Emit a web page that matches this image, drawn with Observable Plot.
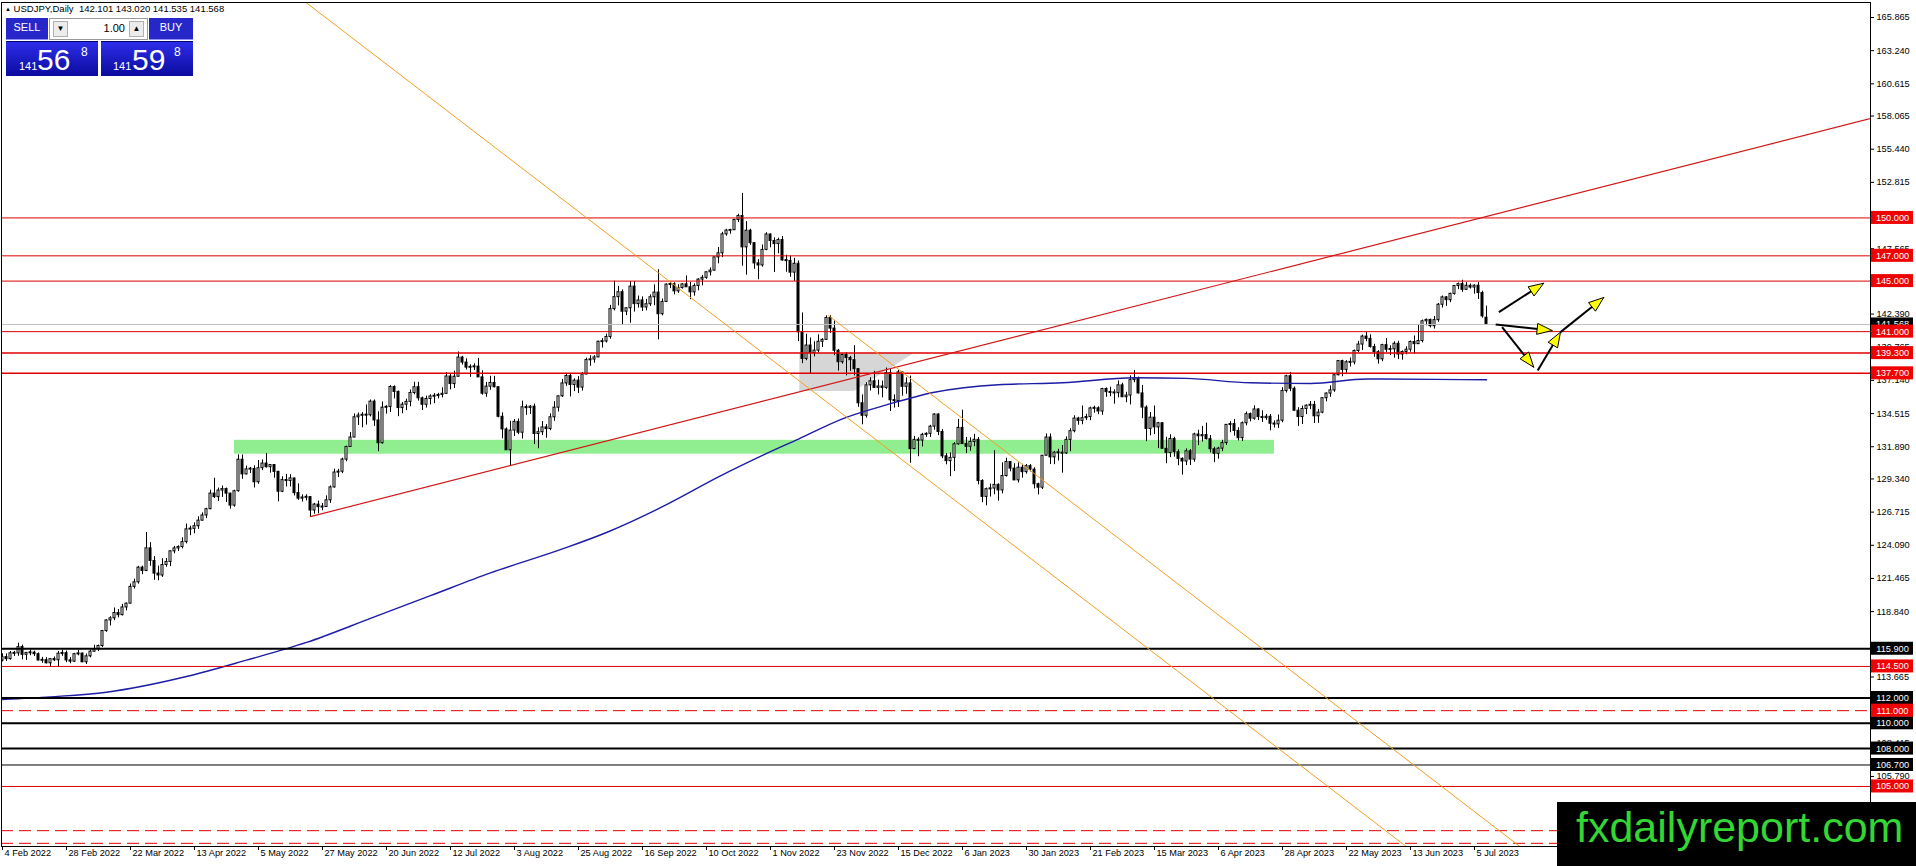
<!DOCTYPE html>
<html><head><meta charset="utf-8">
<script src="https://cdn.jsdelivr.net/npm/d3@7"></script>
<script src="https://cdn.jsdelivr.net/npm/@observablehq/plot@0.6"></script>
<style>
html,body{margin:0;padding:0;background:#fff;}
#wrap{position:relative;width:1916px;height:866px;overflow:hidden;font-family:"Liberation Sans",Arial,sans-serif;}
#chart svg{display:block;}
#title{position:absolute;left:5px;top:3px;font-size:9.5px;color:#000;white-space:pre;}
#title .tri{font-size:6px;vertical-align:1px;}
.bt{position:absolute;top:18px;height:22px;width:42px;background:#2727c9;color:#fff;font-size:11px;text-align:center;line-height:19px;box-sizing:border-box;border-bottom:1px solid #8f8fff;}
#lot{position:absolute;left:49px;top:18px;width:99px;height:22px;background:#fff;border:1px solid #9a9a9a;box-sizing:border-box;font-size:11px;}
#lot .ar{position:absolute;top:2px;width:15px;height:16px;background:#ececec;border:1px solid #b0b0b0;box-sizing:border-box;font-size:8px;text-align:center;line-height:14px;color:#000;}
#lot .v{position:absolute;right:22px;top:3px;}
.pb{position:absolute;top:41px;width:92px;height:35px;background:linear-gradient(#2d2dea,#0b0b9e);color:#fff;border-top:1px solid #00006a;box-sizing:border-box;}
.pb .s{position:absolute;bottom:4px;font-size:11px;}
.pb .b{position:absolute;bottom:1px;font-size:30px;line-height:30px;}
.pb .t{position:absolute;top:3px;font-size:12px;}
#wm{position:absolute;left:1557px;top:802px;width:359px;height:64px;background:#000;}
#wm span{position:absolute;left:19px;top:4px;font-size:43px;line-height:43px;color:#33d633;white-space:nowrap;}
</style></head>
<body><div id="wrap"><div id="chart"></div>
<div id="title"><span class="tri">▲</span> USDJPY,Daily  142.101 143.020 141.535 141.568</div>
<div class="bt" style="left:6px">SELL</div>
<div id="lot"><div class="ar" style="left:3px">▼</div><span class="v">1.00</span><div class="ar" style="right:3px">▲</div></div>
<div class="bt" style="left:149px;width:44px">BUY</div>
<div class="pb" style="left:6px"><span class="s" style="left:13px">141</span><span class="b" style="left:31px">56</span><span class="t" style="left:75px">8</span></div>
<div class="pb" style="left:101px"><span class="s" style="left:12px">141</span><span class="b" style="left:31px">59</span><span class="t" style="left:73px">8</span></div>
<div id="wm"><span>fxdailyreport.com</span></div>
</div>
<script>
// ---- Daily OHLC [open, high, low, close], one small array per month ----
const feb2022 = [
[114.97,115.50,114.86,115.24],[115.24,115.49,114.90,115.08],[115.08,115.68,115.00,115.54],[115.54,115.69,115.29,115.53],
[115.53,116.34,115.30,116.03],[116.03,116.19,115.02,115.42],[115.42,115.61,114.98,115.57],[115.57,115.80,115.35,115.59],
[115.59,115.71,115.29,115.47],[115.47,115.57,114.94,114.97],[114.97,115.22,114.75,115.00],[115.00,115.20,114.70,114.75],
[114.75,115.11,114.50,115.08],[115.08,115.25,114.88,114.99],[114.99,115.69,114.41,115.51],[115.51,115.77,115.30,115.55],
[115.55,115.72,114.80,114.98]];
const mar2022 = [
[114.98,115.20,114.71,114.88],[114.88,115.54,114.82,115.47],[115.47,115.80,115.34,115.52],[115.52,115.56,114.80,114.83],
[114.83,115.48,114.65,115.30],[115.30,115.80,115.18,115.67],[115.67,116.17,115.61,115.86],[115.86,116.19,115.68,116.12],
[116.12,117.35,116.00,117.30],[117.30,118.20,117.20,118.14],[118.14,118.44,117.70,118.31],[118.31,119.13,118.12,118.73],
[118.73,119.00,118.35,118.56],[118.56,119.41,118.50,119.17],[119.17,119.52,118.90,119.47],[119.47,121.03,119.44,120.80],
[120.80,121.41,120.63,121.16],[121.16,122.42,121.02,122.32],[122.32,122.44,121.76,122.06],[122.06,125.10,122.00,123.85],
[123.85,124.30,122.43,122.85],[122.85,123.19,121.32,121.85],[121.85,122.44,121.28,121.70]];
const apr2022 = [
[121.70,123.02,121.55,122.53],[122.53,123.04,122.35,122.77],[122.77,123.65,122.40,123.61],[123.61,124.00,123.42,123.84],
[123.84,124.05,123.60,123.95],[123.95,124.68,123.80,124.34],[124.34,125.77,124.20,125.35],[125.35,125.60,124.85,125.39],
[125.39,125.86,125.00,125.60],[125.60,126.35,125.35,126.04],[126.04,126.65,126.00,126.45],[126.45,127.02,126.20,126.95],
[126.95,128.45,126.90,128.18],[128.18,129.40,127.80,127.90],[127.90,128.62,127.56,128.42],[128.42,128.78,127.88,128.54],
[128.54,128.62,127.47,128.18],[128.18,128.20,126.95,127.23],[127.23,128.45,127.10,128.37],[128.37,131.25,128.30,130.86],
[130.86,131.24,129.31,129.70]];
const may2022 = [
[129.70,130.36,129.67,130.10],[130.10,130.25,129.77,130.13],[130.13,130.38,128.63,129.08],[129.08,130.80,128.92,130.19],
[130.19,130.85,130.00,130.56],[130.56,131.35,130.20,130.27],[130.27,130.48,129.80,130.44],[130.44,130.46,129.40,129.90],
[129.90,129.95,127.53,128.33],[128.33,129.51,128.26,129.25],[129.25,129.70,128.70,129.18],[129.18,129.68,128.70,129.38],
[129.38,129.39,128.00,128.22],[128.22,128.95,127.65,127.78],[127.78,128.08,127.51,127.87],[127.87,128.09,127.60,127.90],
[127.90,127.95,126.36,126.84],[126.84,127.40,126.55,127.31],[127.31,127.59,126.58,127.11],[127.11,127.40,126.82,127.12],
[127.12,128.00,127.10,127.65],[127.65,128.79,127.40,128.67]];
const jun2022 = [
[128.67,130.11,128.62,129.85],[129.85,130.10,129.45,129.91],[129.91,130.98,129.76,130.87],[130.87,131.94,130.70,131.87],
[131.87,133.01,131.85,132.62],[132.62,134.49,132.60,134.22],[134.22,134.56,133.57,134.36],[134.36,134.59,133.39,134.40],
[134.40,135.20,133.60,134.38],[134.38,135.59,134.25,135.46],[135.46,135.59,133.50,133.97],[133.97,134.66,131.50,132.17],
[132.17,135.43,132.10,134.98],[134.98,135.14,134.47,135.04],[135.04,136.72,134.60,136.62],[136.62,136.71,135.68,136.23],
[136.23,136.30,134.27,134.95],[134.95,135.39,134.50,135.22],[135.22,135.66,134.74,135.44],[135.44,136.38,135.05,136.14],
[136.14,137.00,136.00,136.60],[136.60,136.99,135.50,135.72]];
const jul2022 = [
[135.72,135.82,134.76,135.21],[135.21,135.90,134.95,135.67],[135.67,136.00,135.20,135.87],[135.87,136.10,135.30,135.90],
[135.90,136.12,135.68,135.99],[135.99,136.56,135.75,136.08],[136.08,137.75,136.05,137.45],[137.45,137.68,136.39,136.85],
[136.85,137.87,136.50,137.43],[137.43,139.39,137.40,138.95],[138.95,139.05,138.35,138.55],[138.55,138.85,137.97,138.15],
[138.15,138.38,137.38,138.20],[138.20,138.45,137.92,138.23],[138.23,138.88,137.45,137.38],[137.38,137.90,135.97,136.09],
[136.09,136.98,135.80,136.65],[136.65,137.47,136.36,136.94],[136.94,137.46,136.55,136.60],[136.60,136.62,134.18,134.26],
[134.26,134.57,132.51,133.26]];
const aug2022 = [
[133.26,133.38,131.60,131.61],[131.61,133.90,130.40,133.17],[133.17,134.05,132.70,133.86],[133.86,134.09,132.84,133.00],
[133.00,135.50,132.50,135.01],[135.01,135.20,134.37,134.96],[134.96,135.15,134.45,135.06],[135.06,135.27,132.06,132.90],
[132.90,133.39,131.73,133.04],[133.04,133.88,132.77,133.42],[133.42,133.64,132.56,133.29],[133.29,134.49,133.16,134.22],
[134.22,135.46,133.90,134.98],[134.98,135.90,134.64,135.88],[135.88,137.22,135.79,136.90],[136.90,137.70,136.67,137.49],
[137.49,137.65,135.83,136.78],[136.78,137.26,136.25,137.12],[137.12,137.44,136.10,136.57],[136.57,137.77,136.30,137.61],
[137.61,138.90,137.58,138.75],[138.75,139.09,138.25,138.79],[138.79,139.10,138.50,138.96]];
const sep2022 = [
[138.96,140.24,138.94,140.20],[140.20,140.45,139.70,140.22],[140.22,140.80,140.10,140.58],[140.58,143.08,140.40,142.78],
[142.78,144.99,142.64,143.73],[143.73,144.58,143.04,144.12],[144.12,144.30,141.50,142.58],[142.58,142.88,142.27,142.85],
[142.85,144.97,141.66,144.56],[144.56,144.96,142.55,143.18],[143.18,143.82,142.86,143.47],[143.47,143.75,142.60,142.91],
[142.91,143.55,142.65,143.17],[143.17,143.91,143.00,143.72],[143.72,144.70,143.05,144.09],[144.09,145.90,140.35,142.38],
[142.38,143.58,142.25,143.35],[143.35,144.78,143.30,144.72],[144.72,144.91,144.40,144.75],[144.75,144.87,143.91,144.19],
[144.19,144.72,144.03,144.46],[144.46,144.80,144.36,144.74]];
const oct2022 = [
[144.74,145.41,144.60,144.51],[144.51,144.90,143.53,144.11],[144.11,144.78,143.81,144.61],[144.61,145.19,144.23,145.12],
[145.12,145.45,144.63,145.26],[145.26,145.71,145.14,145.70],[145.70,146.04,145.40,145.83],[145.83,146.90,145.79,146.88],
[146.88,147.66,146.37,147.20],[147.20,148.86,146.86,148.70],[148.70,149.10,148.55,149.00],[149.00,149.09,148.71,149.03],
[149.03,149.90,149.00,149.84],[149.84,150.29,149.64,150.15],[150.15,151.94,146.18,147.67],[147.67,149.71,145.47,148.99],
[148.99,149.10,147.83,148.00],[148.00,148.05,145.93,146.40],[146.40,146.70,145.10,146.24],[146.24,147.86,146.10,147.47],
[147.47,148.83,147.40,148.69]];
const nov2022 = [
[148.69,148.73,147.64,148.18],[148.18,148.43,145.68,147.93],[147.93,148.40,147.17,148.25],[148.25,148.53,146.57,146.64],
[146.64,147.05,145.70,146.60],[146.60,146.98,145.30,145.67],[145.67,146.80,144.98,146.37],[146.37,146.59,140.21,140.95],
[140.95,142.48,138.47,138.84],[138.84,140.80,138.70,139.90],[139.90,140.50,137.68,139.30],[139.30,140.20,139.00,139.50],
[139.50,140.75,139.30,140.20],[140.20,140.44,139.74,140.35],[140.35,142.25,140.30,142.08],[142.08,142.26,140.86,141.24],
[141.24,141.85,139.10,139.49],[139.49,139.59,137.88,138.58],[138.58,139.24,138.43,139.15],[139.15,139.35,137.50,138.91],
[138.91,139.04,137.85,138.74],[138.74,139.89,137.50,138.03]];
const dec2022 = [
[138.03,138.06,135.01,135.33],[135.33,135.99,133.63,134.34],[134.34,136.96,134.16,136.75],[136.75,137.35,136.30,137.07],
[137.07,137.86,136.50,136.55],[136.55,137.16,135.99,136.66],[136.66,137.09,135.76,136.55],[136.55,138.12,136.43,137.72],
[137.72,138.00,134.68,135.57],[135.57,135.99,134.95,135.51],[135.51,137.93,135.00,137.77],[137.77,137.78,135.89,136.63],
[136.63,137.34,136.04,136.90],[136.90,137.48,130.58,131.71],[131.71,132.71,131.65,132.43],[132.43,132.60,131.10,132.38],
[132.38,132.95,131.87,132.83],[132.83,133.00,132.63,132.91],[132.91,133.59,132.63,133.48],[133.48,134.50,133.20,134.44],
[134.44,134.50,132.77,133.06],[133.06,133.25,130.95,131.13]];
const jan2023 = [
[131.13,131.35,130.46,130.75],[130.75,131.40,129.52,131.01],[131.01,132.21,129.93,132.08],[132.08,134.05,132.01,133.38],
[133.38,134.78,132.68,132.10],[132.10,132.62,131.35,131.89],[131.89,132.60,131.53,132.27],[132.27,132.87,131.90,132.44],
[132.44,132.62,128.87,129.18],[129.18,129.28,127.46,127.92],[127.92,128.62,127.22,128.53],[128.53,128.94,127.91,128.58],
[128.58,131.58,128.09,128.87],[128.87,128.96,127.58,128.43],[128.43,130.62,128.16,129.57],[129.57,130.98,129.49,130.68],
[130.68,130.72,129.91,130.16],[130.16,130.54,129.20,129.23],[129.23,130.61,129.02,130.23],[130.23,130.50,129.40,129.88],
[129.88,130.48,129.72,130.35],[130.35,130.48,129.90,130.08]];
const feb2023 = [
[130.08,130.23,128.55,128.92],[128.92,129.00,128.08,128.65],[128.65,131.20,128.50,131.18],[131.18,132.90,131.15,132.62],
[132.62,132.90,130.48,131.05],[131.05,131.52,130.47,131.42],[131.42,131.69,130.76,131.40],[131.40,131.99,129.80,131.36],
[131.36,132.67,131.28,132.43],[132.43,133.32,131.50,133.12],[133.12,134.34,132.99,134.12],[134.12,134.22,133.60,133.94],
[133.94,135.11,133.63,134.15],[134.15,134.46,133.96,134.24],[134.24,135.02,133.95,134.92],[134.92,135.10,134.55,134.93],
[134.93,135.05,134.43,134.68],[134.68,136.52,134.38,136.46],[136.46,136.55,135.80,136.21],[136.21,136.60,135.85,136.17]];
const mar2023 = [
[136.17,136.40,135.26,136.13],[136.13,137.10,135.76,136.75],[136.75,136.91,135.78,135.81],[135.81,136.20,135.37,135.94],
[135.94,137.50,135.20,137.16],[137.16,137.92,136.96,137.31],[137.31,137.40,136.07,136.11],[136.11,136.74,134.11,134.99],
[134.99,135.13,132.29,133.30],[133.30,134.60,132.75,134.19],[134.19,135.11,132.85,133.42],[133.42,133.82,131.74,133.75],
[133.75,133.77,131.71,131.73],[131.73,132.64,130.54,131.40],[131.40,132.84,131.03,132.50],[132.50,132.64,131.07,131.46],
[131.46,131.65,130.39,130.93],[130.93,131.01,129.65,130.72],[130.72,131.72,130.40,131.53],[131.53,131.67,130.40,130.87],
[130.87,132.96,130.66,132.86],[132.86,133.20,131.98,132.72],[132.72,133.50,132.26,132.81]];
const apr2023 = [
[132.81,133.76,132.42,132.49],[132.49,132.78,131.40,131.69],[131.69,131.85,130.63,131.33],[131.33,131.85,130.90,131.74],
[131.74,132.40,131.50,132.18],[132.18,133.63,132.00,133.62],[133.62,133.88,133.00,133.68],[133.68,134.05,132.73,133.14],
[133.14,133.39,132.35,132.57],[132.57,133.85,132.30,133.75],[133.75,134.64,133.54,134.47],[134.47,134.56,133.86,134.11],
[134.11,135.13,133.99,134.84],[134.84,134.89,133.96,134.24],[134.24,134.74,133.81,134.16],[134.16,134.45,133.98,134.26],
[134.26,134.44,133.15,133.71],[133.71,133.94,133.37,133.66],[133.66,134.40,133.34,133.95],[133.95,136.56,133.79,136.30]];
const may2023 = [
[136.30,137.55,136.14,137.47],[137.47,137.77,136.25,136.48],[136.48,136.62,134.70,134.74],[134.74,134.98,133.50,134.24],
[134.24,135.11,133.65,134.88],[134.88,135.20,134.43,135.14],[135.14,135.47,134.83,135.20],[135.20,135.48,133.73,134.30],
[134.30,134.84,133.75,134.59],[134.59,135.76,134.50,135.73],[135.73,136.15,135.45,136.10],[136.10,136.70,135.80,136.35],
[136.35,137.64,136.20,137.55],[137.55,138.70,137.50,138.67],[138.67,138.74,137.43,137.97],[137.97,138.70,137.71,138.58],
[138.58,138.91,138.20,138.56],[138.56,139.55,138.37,139.47],[139.47,140.23,139.32,139.98],[139.98,140.73,139.50,140.61],
[140.61,140.93,140.20,140.43],[140.43,140.75,139.70,139.78],[139.78,140.00,138.98,139.37]];
const jun2023 = [
[139.37,139.49,138.43,138.81],[138.81,140.00,138.62,139.93],[139.93,140.45,139.35,139.57],[139.57,139.88,139.10,139.60],
[139.60,140.20,138.90,140.04],[140.04,140.24,138.79,139.19],[139.19,139.48,138.74,139.39],[139.39,139.80,139.17,139.57],
[139.57,140.26,139.37,140.18],[140.18,140.66,139.23,140.01],[140.01,141.50,139.98,140.26],[140.26,141.92,140.11,141.82],
[141.82,142.00,141.46,141.93],[141.93,141.98,141.30,141.43],[141.43,142.20,141.20,141.91],[141.91,143.23,141.74,143.13],
[143.13,143.82,142.87,143.71],[143.71,143.78,143.00,143.49],[143.49,144.04,143.29,143.99],[143.99,144.66,143.88,144.61],
[144.61,144.85,144.32,144.76],[144.76,145.07,144.11,144.31]];
const jul2023 = [
[144.31,144.88,144.28,144.63],[144.63,144.77,144.37,144.49],[144.49,144.70,143.97,144.64],[144.64,144.88,143.55,144.06],
[144.06,144.20,142.07,142.21],[142.10,143.02,141.535,141.568]];

// ---- 200-day moving average (bar index, value) ----
const maBars = [0,12,26,46,61,76,92,107,122,140,151,166,179,190,199,210,221,233,249,265,283,296,312,327,341,358,371];
const maVals = [111.87,112.09,112.46,113.7,115.0,116.4,118.3,120.1,121.9,123.8,125.1,127.3,129.5,131.2,132.5,134.1,135.2,136.2,136.8,136.95,137.35,137.3,136.95,136.9,137.25,137.22,137.19];

// ---- horizontal levels ----
const redLevels = [150, 147, 145, 141, 139.3, 137.7, 114.5, 105];
const redLevelWidths = [1, 1, 1, 1, 1.5, 1.5, 1, 1];
const redDashedLevels = [111, 101.5, 100.5];
const blackLevels = [115.9, 112, 110, 108, 106.7];
const blackLevelWidths = [2, 2, 2, 2, 1];
const bidPrice = 141.568;
const redLabelLevels = [150, 147, 145, 141, 139.3, 137.7, 114.5, 111, 105];
const blackLabelLevels = [115.9, 112, 110, 108, 106.7];

// ---- trend lines (bar index, price) ----
const redTrend = [[77, 126.36], [470, 158.11]];
const orangeTrend1 = [[70, 168.48], [360, 98.04]];
const orangeTrend2 = [[206.5, 142.27], [390, 97.66]];
// ---- zones ----
const greenZone = {from: 58, to: 318, low: 131.3, high: 132.4};
const greyZone = [[199.2, 139.3], [227.8, 139.3], [212.9, 136.3], [199.2, 136.3], [199.2, 139.3]];
// ---- arrows: [fromBar, fromPrice, toBar, toPrice] ----
const arrows = [
  [374.1, 142.54, 385.3, 144.83],
  [373.3, 141.57, 387.4, 141.09],
  [374.9, 141.35, 382.8, 138.19],
  [383.8, 137.92, 389.5, 140.96],
  [389.5, 140.96, 400.3, 143.70]];

// ---- axes (only the price ticks that are visible in the picture) ----
const priceTicks = [165.865,163.240,160.615,158.065,155.440,152.815,147.565,142.390,139.765,137.140,134.515,131.890,129.340,126.715,124.090,121.465,118.840,113.665,108.415,105.790];
const dateLabels = ["4 Feb 2022","28 Feb 2022","22 Mar 2022","13 Apr 2022","5 May 2022","27 May 2022","20 Jun 2022","12 Jul 2022","3 Aug 2022","25 Aug 2022","16 Sep 2022","10 Oct 2022","1 Nov 2022","23 Nov 2022","15 Dec 2022","6 Jan 2023","30 Jan 2023","21 Feb 2023","15 Mar 2023","6 Apr 2023","28 Apr 2023","22 May 2023","13 Jun 2023","5 Jul 2023"];
const barsPerLabel = 16;

// ---- build ----
const months = [feb2022,mar2022,apr2022,may2022,jun2022,jul2022,aug2022,sep2022,oct2022,nov2022,dec2022,jan2023,feb2023,mar2023,apr2023,may2023,jun2023,jul2023];
const bars = months.flat().map((r, i) => ({i, o: r[0], h: r[1], l: r[2], c: r[3]}));

const W = 1916, H = 866, mL = 1, mR = 46, mT = 2, mB = 20;
const xDom = [-0.25, 467], yDom = [100.248, 167.052];
const kx = (W - mL - mR) / (xDom[1] - xDom[0]);
const ky = (H - mT - mB) / (yDom[1] - yDom[0]);

const minH = 1 / ky;
const body = d => {
  let lo = Math.min(d.o, d.c), hi = Math.max(d.o, d.c);
  if (hi - lo < minH) { const m = (hi + lo) / 2; lo = m - minH / 2; hi = m + minH / 2; }
  return [lo, hi];
};
const upBars = bars.filter(d => d.c >= d.o), dnBars = bars.filter(d => d.c < d.o);
const ma = maBars.map((b, k) => ({i: b, v: maVals[k]}));
const ticksX = dateLabels.map((t, k) => ({i: k * barsPerLabel, t}));

const arrowObjs = arrows.map((a, k) => ({k, x1: a[0], y1: a[1], x2: a[2], y2: a[3]}));
const HL = 15, HW = 11;
const heads = [], shafts = [];
for (const a of arrowObjs) {
  const dxp = (a.x2 - a.x1) * kx, dyp = -(a.y2 - a.y1) * ky;
  const len = Math.hypot(dxp, dyp), ux = dxp / len, uy = dyp / len;
  const nx = -uy, ny = ux;
  const bx = -ux * HL, by = -uy * HL;
  const pts = [[0, 0], [bx + nx * HW / 2, by + ny * HW / 2], [bx - nx * HW / 2, by - ny * HW / 2], [0, 0]];
  for (const [px, py] of pts) heads.push({k: a.k, x: a.x2 + px / kx, y: a.y2 - py / ky});
  shafts.push({x1: a.x1, y1: a.y1, x2: a.x2 - ux * (HL - 3) / kx, y2: a.y2 + uy * (HL - 3) / ky});
}

const boxX1 = xDom[1] + 1 / kx, boxX2 = xDom[1] + 43 / kx, boxH = 6.5 / ky;
const fmt = v => v.toFixed(3);
const redC = "#e00000";

const plot = Plot.plot({
  width: W, height: H,
  marginLeft: mL, marginRight: mR, marginTop: mT, marginBottom: mB,
  x: {domain: xDom, axis: null},
  y: {domain: yDom, axis: null},
  style: {background: "#fff", fontFamily: "Liberation Sans, Arial, sans-serif", fontSize: "9px", overflow: "visible"},
  marks: [
    Plot.rect([greenZone], {x1: "from", x2: "to", y1: "low", y2: "high", fill: "#90ee90", clip: true}),
    Plot.line(greyZone, {x: d => d[0], y: d => d[1], fill: "#d6d6d6", stroke: "none", clip: true}),
    Plot.ruleX(bars, {x: "i", y1: "l", y2: "h", stroke: "#000", strokeWidth: 1, clip: true}),
    Plot.rect(upBars, {x1: d => d.i - 0.25, x2: d => d.i + 0.25, y1: d => body(d)[0], y2: d => body(d)[1], fill: "#fff", stroke: "#000", strokeWidth: 1, clip: true}),
    Plot.rect(dnBars, {x1: d => d.i - 0.25, x2: d => d.i + 0.25, y1: d => body(d)[0], y2: d => body(d)[1], fill: "#000", stroke: "#000", strokeWidth: 1, clip: true}),
    Plot.line(ma, {x: "i", y: "v", stroke: "#1c1ca6", strokeWidth: 1.4, curve: "monotone-x"}),
    Plot.ruleY([bidPrice], {stroke: "#c0c0c0", strokeWidth: 1}),
    Plot.ruleY(redLevels, {y: d => d, stroke: redC, strokeWidth: (d, k) => redLevelWidths[k]}),
    Plot.ruleY(redDashedLevels, {y: d => d, stroke: redC, strokeWidth: 1, strokeDasharray: "12,6"}),
    Plot.ruleY(blackLevels, {y: d => d, stroke: "#000", strokeWidth: (d, k) => blackLevelWidths[k]}),
    Plot.line(redTrend, {x: d => d[0], y: d => d[1], stroke: "#d01818", strokeWidth: 1.2, clip: true}),
    Plot.line(orangeTrend1, {x: d => d[0], y: d => d[1], stroke: "#f0a020", strokeWidth: 1, clip: true}),
    Plot.line(orangeTrend2, {x: d => d[0], y: d => d[1], stroke: "#f0a020", strokeWidth: 1, clip: true}),
    Plot.link(shafts, {x1: "x1", y1: "y1", x2: "x2", y2: "y2", stroke: "#000", strokeWidth: 2}),
    Plot.line(heads, {x: "x", y: "y", z: "k", fill: "#ffff00", stroke: "#000", strokeWidth: 1, strokeLinejoin: "miter"}),
    // right price axis
    Plot.ruleY(priceTicks, {y: d => d, x1: xDom[1], x2: xDom[1] + 4 / kx, stroke: "#000"}),
    Plot.text(priceTicks, {y: d => d, text: fmt, frameAnchor: "right", dx: 6, textAnchor: "start", fill: "#000", fontSize: 9.2}),
    // bid label
    Plot.rect([bidPrice], {x1: boxX1, x2: boxX2, y1: d => d - boxH, y2: d => d + boxH, fill: "#000"}),
    Plot.text([bidPrice], {y: d => d, text: fmt, frameAnchor: "right", dx: 22, textAnchor: "middle", fill: "#fff", fontSize: 9.2}),
    // level labels
    Plot.rect(blackLabelLevels, {x1: boxX1, x2: boxX2, y1: d => d - boxH, y2: d => d + boxH, fill: "#000"}),
    Plot.text(blackLabelLevels, {y: d => d, text: fmt, frameAnchor: "right", dx: 22, textAnchor: "middle", fill: "#fff", fontSize: 9.2}),
    Plot.rect(redLabelLevels, {x1: boxX1, x2: boxX2, y1: d => d - boxH, y2: d => d + boxH, fill: "#f00000"}),
    Plot.text(redLabelLevels, {y: d => d, text: fmt, frameAnchor: "right", dx: 22, textAnchor: "middle", fill: "#fff", fontSize: 9.2}),
    // bottom date axis
    Plot.ruleX(ticksX, {x: "i", y1: yDom[0], y2: yDom[0] - 4 / ky, stroke: "#000"}),
    Plot.text(ticksX, {x: "i", text: "t", frameAnchor: "bottom", dy: 9, dx: 2, textAnchor: "start", fill: "#000", fontSize: 9.2}),
    Plot.frame({stroke: "#000", strokeWidth: 1})
  ]
});
document.getElementById("chart").appendChild(plot);
</script>
</body></html>
